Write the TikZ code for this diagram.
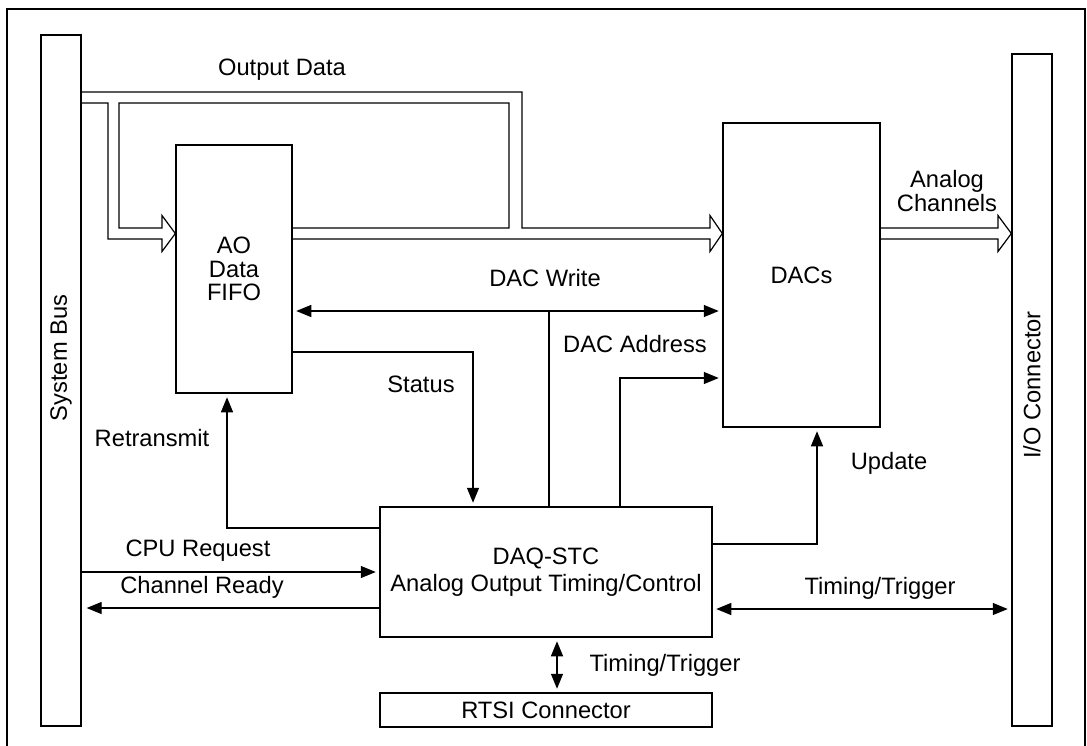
\documentclass[tikz,border=0pt]{standalone}
\usepackage{fontspec}
\setmainfont{Liberation Sans}
\usetikzlibrary{arrows.meta}
\newcommand\dfont{\fontsize{11.85}{11.8}\selectfont}
\begin{document}
\begin{tikzpicture}[x=0.5pt,y=-0.5pt,
  box/.style={draw,line width=0.65pt,inner sep=0pt,align=center,font=\dfont},
  conn/.style={line width=0.65pt},
  arr/.style={conn,-{Triangle[length=7.5pt,width=6pt]},shorten >=1.8pt},
  darr/.style={conn,{Triangle[length=7.5pt,width=6pt]}-{Triangle[length=7.5pt,width=6pt]},shorten >=1.8pt,shorten <=1.8pt},
  pipe/.style={line width=0.6pt,line join=miter},
  lbl/.style={font=\dfont,inner sep=0pt,align=center}]
\useasboundingbox (0,0) rectangle (1087,745);
% outer frame
\draw[line width=1.1pt] (7,760) -- (7,9) -- (1085,9) -- (1085,760);

% blocks
\node[box,minimum width=20pt,minimum height=345.5pt] (bus) at (61,380.5) {};
\node[lbl,rotate=90] (bustxt) at (61,358) {System Bus};
\node[box,minimum width=20pt,minimum height=336pt] (io) at (1032,390) {};
\node[lbl,rotate=90] (iotxt) at (1032,385) {I/O Connector};
\node[box,minimum width=58pt,minimum height=124pt] (fifo) at (234,269) {AO\\Data\\FIFO};
\node[box,minimum width=78.5pt,minimum height=152pt] (dacs) at (801.5,275) {DACs};
\node[box,minimum width=166pt,minimum height=65pt] (daq) at (546,572) {DAQ-STC\\[1.6pt]Analog Output Timing/Control};
\node[box,minimum width=166pt,minimum height=17pt] (rtsi) at (546,710) {RTSI Connector};

% pipes (Output Data / Analog Channels)
\coordinate (pa) at (bus.east |- 0,92);
\coordinate (pb) at (bus.east |- 0,103);
\draw[pipe] (pa) -- (522,92) -- (522,228) -- (710,228) -- (710,215.5) -- (dacs.west |- 0,233.5) -- (710,251.5) -- (710,239) -- (fifo.east |- 0,239);
\draw[pipe] (pb) -- (108,103) -- (108,239) -- (162,239) -- (162,251.5) -- (fifo.west |- 0,233.5) -- (162,215.5) -- (162,228) -- (119,228) -- (119,103) -- (509,103) -- (509,228) -- (fifo.east |- 0,228);
\draw[pipe] (dacs.east |- 0,228) -- (998,228) -- (998,215.5) -- (io.west |- 0,233.5) -- (998,251.5) -- (998,239) -- (dacs.east |- 0,239);

% control lines
\draw[darr] (fifo.east |- 0,311) -- (dacs.west |- 0,311);
\draw[conn] (daq.north -| 549,0) -- (549,311);
\draw[arr] (fifo.east |- 0,352) -- (473,352) -- (daq.north -| 473,0);
\draw[arr] (daq.north -| 620,0) -- (620,378) -- (dacs.west |- 0,378);
\draw[arr] (daq.east |- 0,544) -- (817,544) -- (dacs.south -| 817,0);
\draw[arr] (daq.west |- 0,528) -- (227,528) -- (fifo.south -| 227,0);
\draw[arr] (bus.east |- 0,572) -- (daq.west |- 0,572);
\draw[arr,shorten >=2.5pt] (daq.west |- 0,608) -- (bus.east |- 0,608);
\draw[darr] (daq.east |- 0,609) -- (io.west |- 0,609);
\draw[darr] (daq.south -| 557,0) -- (rtsi.north -| 557,0);

% labels
\node[lbl] (l1) at (282,70) {Output Data};
\node[lbl] (l2) at (947,191) {Analog\\Channels};
\node[lbl] (l3) at (545,278) {DAC Write};
\node[lbl] (l4) at (635,344) {DAC Address};
\node[lbl] (l5) at (421,384) {Status};
\node[lbl] (l6) at (152,438) {Retransmit};
\node[lbl] (l7) at (889,463) {Update};
\node[lbl] (l8) at (198,551) {CPU Request};
\node[lbl] (l9) at (202,587) {Channel Ready};
\node[lbl] (l10) at (880,588) {Timing/Trigger};
\node[lbl] (l11) at (665,665) {Timing/Trigger};
\end{tikzpicture}
\end{document}
